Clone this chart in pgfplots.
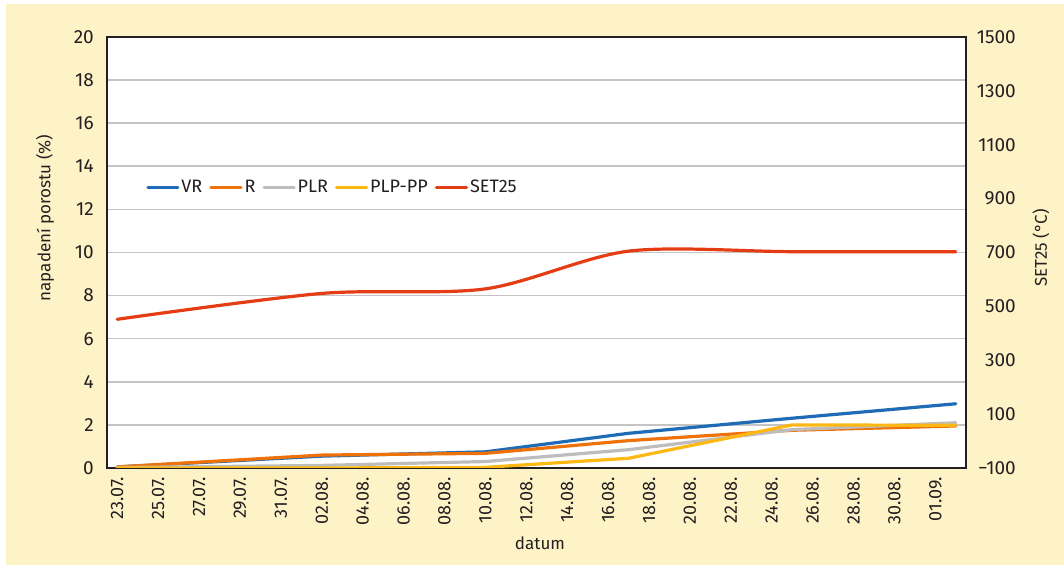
\documentclass[border=0pt]{standalone}
\usepackage{fontspec}
\setmainfont{Fira Sans}
\usepackage{pgfplots}
\pgfplotsset{compat=1.18}
\definecolor{cream}{HTML}{FEF2C7}
\definecolor{vrblue}{HTML}{1F6BB5}
\definecolor{rorange}{HTML}{EF7109}
\definecolor{plrgray}{HTML}{BDBDBD}
\definecolor{plpyellow}{HTML}{FDB813}
\definecolor{setred}{HTML}{E43D14}
\definecolor{gridgray}{HTML}{C4C4C4}
\definecolor{dark}{HTML}{231F20}
\definecolor{txt}{HTML}{231F20}

\pgfplotstableread{
d   VR    R     PLR   PLP   SET
0   0.05  0.05  0.02  0.00  452
10  0.55  0.60  0.12  0.00  548
18  0.75  0.68  0.30  0.03  565
25  1.61  1.27  0.85  0.45  705
33  2.31  1.75  1.78  2.00  703
41  2.98  1.95  2.10  1.98  703
}\datatab

\begin{document}
\fontsize{18bp}{22bp}\selectfont
\begin{tikzpicture}[x=1bp,y=1bp]
\useasboundingbox (0,0) rectangle (1064,569);
\fill[white] (0,0) rectangle (1064,569);
\fill[cream] (6,4) rectangle (1064,565);

\begin{axis}[
  at={(107bp,101bp)}, anchor=south west,
  width=859bp, height=431bp, scale only axis,
  xmin=-0.5, xmax=41.5, ymin=0, ymax=20,
  xtick={0,2,...,40},
  xticklabels={23.07.,25.07.,27.07.,29.07.,31.07.,02.08.,04.08.,06.08.,08.08.,10.08.,12.08.,14.08.,16.08.,18.08.,20.08.,22.08.,24.08.,26.08.,28.08.,30.08.,01.09.},
  ytick={0,2,...,20},
  yticklabels={0,2,4,6,8,10,12,14,16,18,20},
  major tick length=0pt,
  tick label style={font=\fontsize{19bp}{22bp}\selectfont, text=txt},
  xticklabel style={rotate=90, anchor=east, inner xsep=9bp, inner ysep=0pt, font=\fontsize{18bp}{22bp}\selectfont},
  yticklabel style={inner sep=0pt, xshift=-13bp},
  ymajorgrids, grid style={gridgray, line width=1.6bp},
  axis line style={dark, line width=2.4bp},
  axis background/.style={fill=white},
  legend columns=5,
  legend style={at={(0.042,0.65)}, anchor=west, draw=none, fill=none,
    font=\fontsize{18bp}{22bp}\selectfont, text=txt,
    /tikz/every even column/.append style={column sep=5bp},
    /tikz/every odd column/.append style={column sep=0bp}},
  legend image code/.code={\draw[#1] (0bp,0bp) -- (30bp,0bp);},
  every axis plot/.append style={line width=3.2bp, line join=round, line cap=round},
]
\addplot[vrblue, no marks] table[x=d, y=VR] {\datatab};
\addlegendentry{VR}
\addplot[rorange, no marks] table[x=d, y=R] {\datatab};
\addlegendentry{R}
\addplot[plrgray, no marks] table[x=d, y=PLR] {\datatab};
\addlegendentry{PLR}
\addplot[plpyellow, no marks] table[x=d, y=PLP] {\datatab};
\addlegendentry{PLP-PP}
\addlegendimage{setred, line width=3.2bp}
\addlegendentry{SET25}
\end{axis}

\begin{axis}[
  at={(107bp,101bp)}, anchor=south west,
  width=859bp, height=431bp, scale only axis,
  xmin=-0.5, xmax=41.5, ymin=-100, ymax=1500,
  axis x line=none, axis y line*=right,
  ytick={-100,100,...,1500},
  yticklabels={−100,100,300,500,700,900,1100,1300,1500},
  major tick length=0pt,
  yticklabel style={anchor=east, inner sep=0pt, xshift=50bp, font=\fontsize{19bp}{22bp}\selectfont, text=txt},
  axis line style={dark, line width=2.4bp},
]
\addplot[setred, no marks, smooth, line width=3.2bp, line cap=round] table[x=d, y=SET] {\datatab};
\end{axis}

\node[rotate=90, text=txt, font=\fontsize{17bp}{20bp}\selectfont] at (45,351) {napadení porostu (\%)};
\node[rotate=90, text=txt, font=\fontsize{17bp}{20bp}\selectfont] at (1041,321) {SET25 (°C)};
\node[text=txt, font=\fontsize{17bp}{20bp}\selectfont] at (540,26) {datum};
\end{tikzpicture}
\end{document}
